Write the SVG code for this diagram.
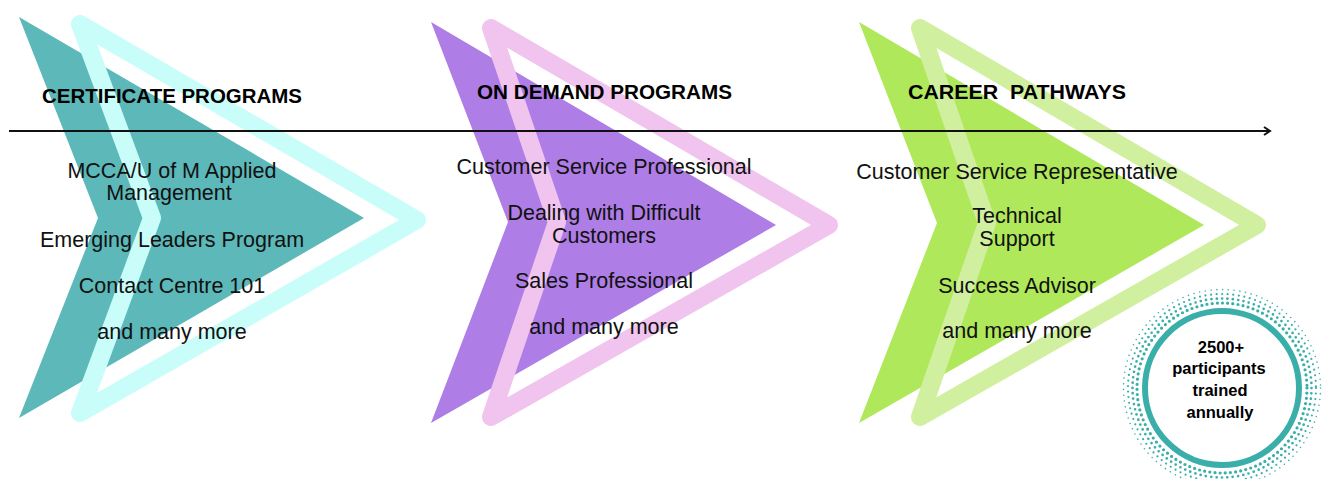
<svg xmlns="http://www.w3.org/2000/svg" width="1327" height="479" viewBox="0 0 1327 479">
<defs>
<style>
.solid{stroke:none}
.outline{fill:none;stroke-width:18;stroke-linejoin:round}
.hdr{font-family:"Liberation Sans",Arial,sans-serif;font-weight:bold;font-size:20px;fill:#000}
.body{font-family:"Liberation Sans",Arial,sans-serif;font-size:21.5px;fill:#111;text-anchor:middle}
.badge{font-family:"Liberation Sans",Arial,sans-serif;font-weight:bold;font-size:16.5px;fill:#000;text-anchor:middle}
.dots{fill:none;stroke:#3aafa9;stroke-linecap:round}
</style>
<marker id="arr" viewBox="0 0 10 10" refX="8" refY="5" markerWidth="10" markerHeight="10" markerUnits="userSpaceOnUse" orient="auto">
<path d="M2,1 L8,5 L2,9" fill="none" stroke="#111" stroke-width="2"/>
</marker>
</defs>
<rect width="1327" height="479" fill="#fff"/>

<g id="node-certificate">
<g transform="translate(19,17)">
<polygon class="solid" fill="#5cb8b9" points="0,0 345,201 0,401 79,201"/>
<polygon class="outline" stroke="#c9fdf9" points="61,7 398,203 61,396 133,201"/>
</g>
</g>

<g id="node-ondemand">
<g transform="translate(431,22)">
<polygon class="solid" fill="#af7de6" points="0,0 345,203 0,401 77,200"/>
<polygon class="outline" stroke="#f0c4ee" points="60,6 398,203 60,395 126,200"/>
</g>
</g>

<g id="node-career">
<g transform="translate(859,22)">
<polygon class="solid" fill="#afe85a" points="0,0 345,203 0,401 78,201"/>
<polygon class="outline" stroke="#d0f0a0" points="61,6 398,203 61,395 128,201"/>
</g>
</g>

<g id="connectors">
<line x1="9" y1="131" x2="1270" y2="131" stroke="#111" stroke-width="1.8" marker-end="url(#arr)"/>
</g>

<g id="text-certificate">
<text class="hdr" x="42" y="103" textLength="260" lengthAdjust="spacingAndGlyphs">CERTIFICATE PROGRAMS</text>
<text class="body" x="172" y="178">MCCA/U of M Applied</text>
<text class="body" x="169" y="200">Management</text>
<text class="body" x="172" y="247">Emerging Leaders Program</text>
<text class="body" x="172" y="293">Contact Centre 101</text>
<text class="body" x="172" y="339">and many more</text>
</g>

<g id="text-ondemand">
<text class="hdr" x="477" y="99" textLength="255" lengthAdjust="spacingAndGlyphs">ON DEMAND PROGRAMS</text>
<text class="body" x="604" y="174">Customer Service Professional</text>
<text class="body" x="604" y="220">Dealing with Difficult</text>
<text class="body" x="604" y="243">Customers</text>
<text class="body" x="604" y="288">Sales Professional</text>
<text class="body" x="604" y="334">and many more</text>
</g>

<g id="text-career">
<text class="hdr" x="908" y="99" textLength="218" lengthAdjust="spacingAndGlyphs" xml:space="preserve">CAREER  PATHWAYS</text>
<text class="body" x="1017" y="179">Customer Service Representative</text>
<text class="body" x="1017" y="223">Technical</text>
<text class="body" x="1017" y="246">Support</text>
<text class="body" x="1017" y="293">Success Advisor</text>
<text class="body" x="1017" y="338">and many more</text>
</g>

<g id="node-badge">
<circle cx="1222" cy="388" r="100" fill="#fff"/>
<circle class="dots" cx="1222" cy="388" r="85" stroke-width="3.2" stroke-dasharray="0 5.2"/>
<circle class="dots" cx="1222" cy="388" r="89.5" stroke-width="2.7" stroke-dasharray="0 5.4"/>
<circle class="dots" cx="1222" cy="388" r="94" stroke-width="2.2" stroke-dasharray="0 5.6"/>
<circle class="dots" cx="1222" cy="388" r="98.5" stroke-width="1.6" stroke-dasharray="0 5.8"/>
<circle cx="1222" cy="388" r="77" fill="#fff" stroke="#3aafa9" stroke-width="6"/>
<text class="badge" x="1221" y="353">2500+</text>
<text class="badge" x="1219" y="374">participants</text>
<text class="badge" x="1220" y="396">trained</text>
<text class="badge" x="1220" y="418">annually</text>
</g>
</svg>
